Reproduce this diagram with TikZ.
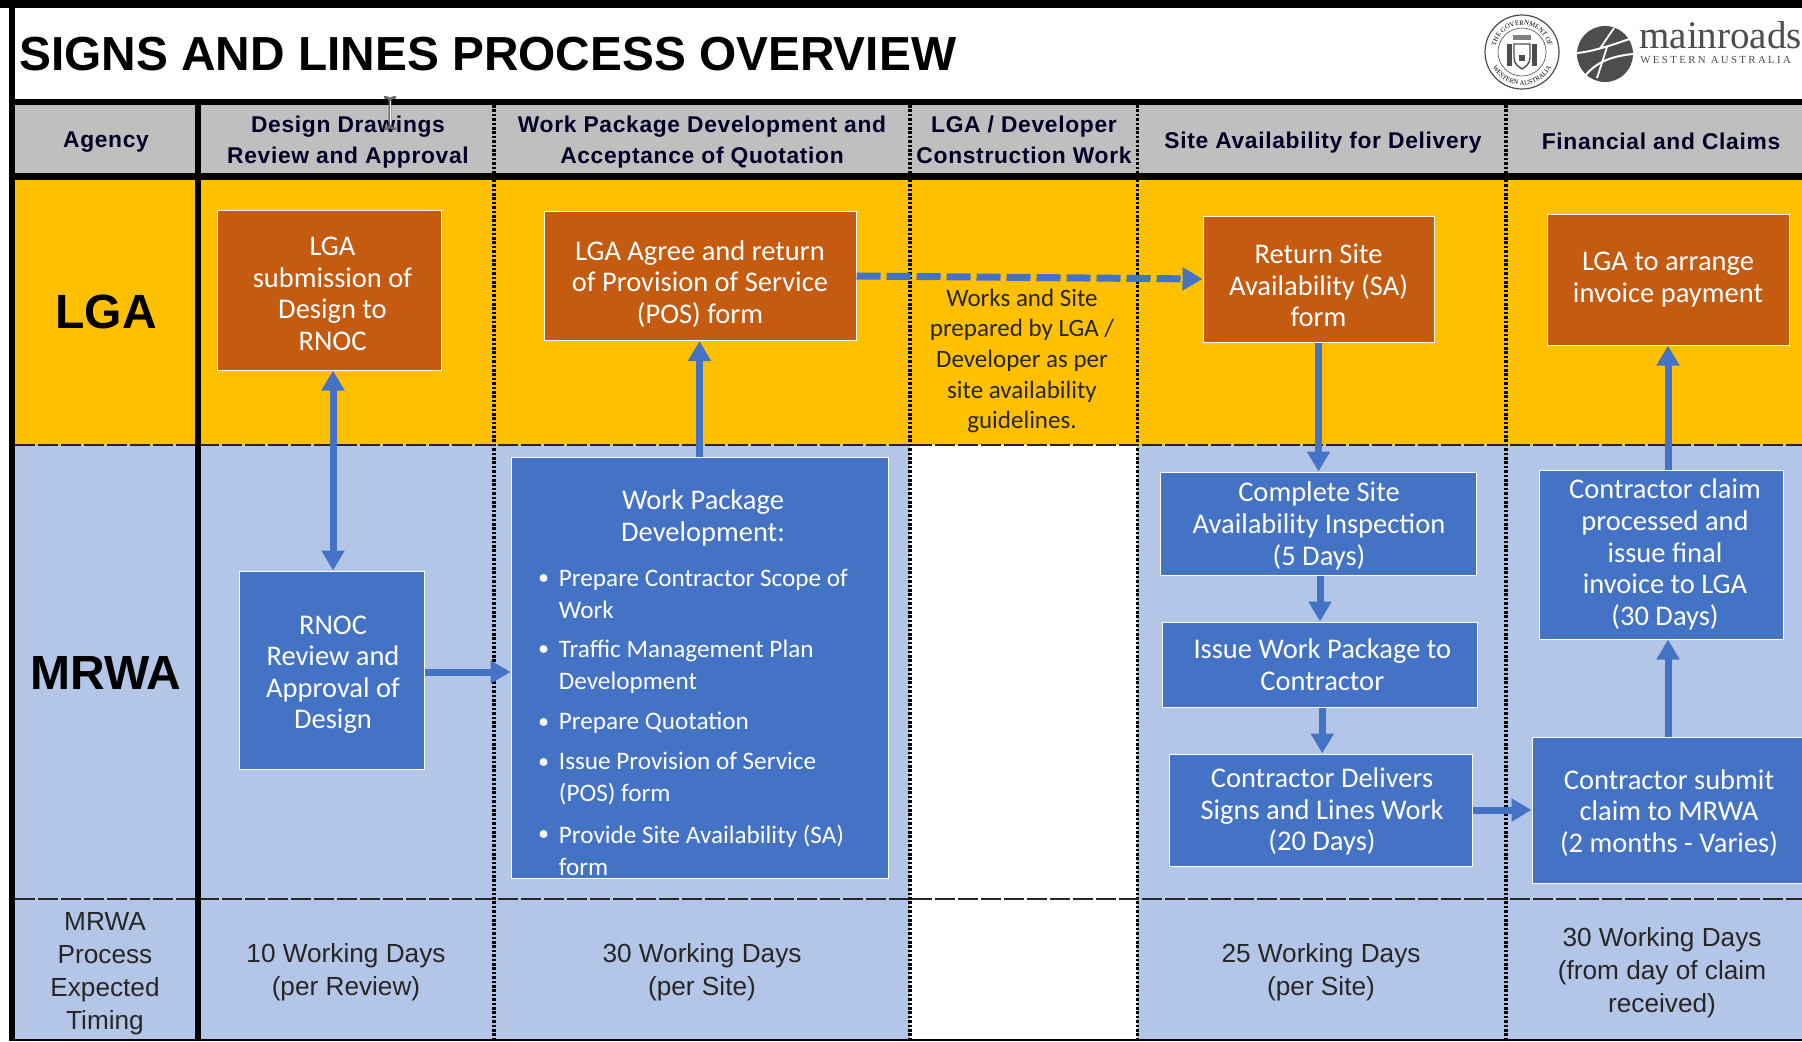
\documentclass[tikz,border=0pt]{standalone}
\usepackage{fontspec}
\setmainfont{Carlito}
\newfontfamily\arialfont{Liberation Sans}
\newfontfamily\headfont[LetterSpace=3]{Liberation Sans}
\newfontfamily\logofont{Liberation Serif}
\newfontfamily\logosmall[LetterSpace=22]{Liberation Serif}
\usepackage{tikz}
\usetikzlibrary{positioning, arrows.meta, calc, decorations.text}
\definecolor{lgaorange}{HTML}{C55A11}
\definecolor{lgagold}{HTML}{FFC000}
\definecolor{mrwablue}{HTML}{4472C4}
\definecolor{mrwalight}{HTML}{B4C6E7}
\definecolor{headgray}{HTML}{BFBFBF}
\definecolor{logogray}{HTML}{4D4D4D}
\tikzset{
    boxtext/.style={align=center, text=white, inner sep=0pt,
        font=\fontsize{14.25}{15.8}\selectfont},
    lgabox/.style={fill=lgaorange, draw=white, line width=0.5pt},
    mrwabox/.style={fill=mrwablue, draw=white, line width=0.5pt},
    itemtext/.style={anchor=west, align=left, text=white, inner sep=0pt,
        font=\fontsize{12.6}{16}\selectfont},
    itemdot/.style={circle, fill=white, inner sep=0pt, minimum size=4pt},
    headtext/.style={align=center, inner sep=0pt, text=black!85!blue,
        font=\headfont\bfseries\fontsize{11.4}{15.8}\selectfont},
    timetext/.style={align=center, inner sep=0pt, text=black!85,
        font=\arialfont\fontsize{13.1}{16.5}\selectfont},
    rowtext/.style={inner sep=0pt, font=\arialfont\bfseries\fontsize{24}{28}\selectfont},
    flow/.style={draw=mrwablue, line width=3.5pt,
        -{Triangle[width=11pt,length=10pt]}},
    blackbar/.style={black, line width=3.2pt},
    rowline/.style={black!85, line width=0.8pt, dash pattern=on 10pt off 1.5pt},
    coldots/.style={black, line width=1.8pt, dash pattern=on 1.3pt off 0.9pt}
}
\begin{document}
\begin{tikzpicture}[x=0.5pt, y=-0.5pt]
    \useasboundingbox (0,0) rectangle (1802,1041);
    \clip (0,0) rectangle (1802,1041);

    % bands
    \fill[white] (0,0) rectangle (1802,1041);
    \fill[headgray] (15,105) rectangle (1802,173);
    \fill[lgagold] (15,180) rectangle (1802,445);
    \fill[mrwalight] (15,445) rectangle (1802,1041);
    \fill[white] (910,445) rectangle (1137,1041);

    % column lines
    \foreach \x in {494,910,1137.5,1506}
    {
        \draw[coldots] (\x,105) -- (\x,1041);
    }

    % row lines
    \foreach \y in {445,899}
    {
        \draw[rowline] (15,\y) -- (1802,\y);
    }

    % border
    \draw[blackbar, line width=4pt] (0,4) -- (1802,4);
    \draw[blackbar] (12,0) -- (12,1041);
    \draw[blackbar] (198,105) -- (198,1041);
    \draw[blackbar] (12,102) -- (1802,102);
    \draw[blackbar] (12,176.5) -- (1802,176.5);
    \draw[blackbar, line width=1pt] (12,1040) -- (1802,1040);

    % title
    \node[anchor=west, inner sep=0pt, font=\arialfont\bfseries\fontsize{23.9}{28}\selectfont]
        (title) at (19,54) {SIGNS AND LINES PROCESS OVERVIEW};

    % seal
    \begin{scope}[shift={(1522,52)}, x=0.5pt, y=0.5pt, logogray]
        \draw[line width=0.6pt] (0,0) circle (37);
        \draw[line width=0.3pt] (0,0) circle (24);
        \path[decorate, decoration={text along path, text align=center,
            text={|\logofont\fontsize{3.4}{4}\selectfont|THE GOVERNMENT OF}}]
            (170:27) arc (170:10:27);
        \path[decorate, decoration={text along path, text align=center,
            text={|\logofont\fontsize{3.4}{4}\selectfont|WESTERN AUSTRALIA}}]
            (205:33) arc (205:335:33);
        \fill[logogray!70] (-9,12) rectangle (9,17);
        \draw[line width=0.7pt, fill=white] (-8,8) -- (8,8) -- (8,-6)
            .. controls (8,-12) and (3,-15) .. (0,-17)
            .. controls (-3,-15) and (-8,-12) .. (-8,-6) -- cycle;
        \fill (-15,8) rectangle (-10,-14);
        \fill (15,8) rectangle (10,-14);
        \fill (-3,-3) rectangle (3,-9);
    \end{scope}

    % main roads logo
    \fill[logogray] (1605,54) circle (28);
    \draw[white, line width=1pt] (1577,53) .. controls (1590,52) and (1610,46) .. (1632,38);
    \draw[white, line width=1pt] (1585,76) .. controls (1596,62) and (1612,56) .. (1633,54);
    \draw[white, line width=0.9pt] (1614,28) -- (1601,47) -- (1607,47) -- (1597,78);
    \node[anchor=base west, inner sep=0pt, text=logogray, font=\logofont\fontsize{19.5}{22}\selectfont]
        (mainroads) at (1639,48) {mainroads};
    \node[anchor=base west, inner sep=0pt, text=logogray, font=\logosmall\fontsize{5.4}{6}\selectfont]
        (westaus) at (1640,63) {WESTERN AUSTRALIA};

    % column heads
    \foreach \name/\x/\y/\txt in {
        agency/106/142.5/{Agency},
        design/348/142/{Design Drawings\\Review and Approval},
        package/702/142/{Work Package Development and\\Acceptance of Quotation},
        construct/1024/140/{LGA / Developer\\Construction Work},
        siteavail/1323/143/{Site Availability for Delivery},
        financial/1661/141.5/{Financial and Claims}}
    {
        \node[headtext] (\name) at (\x,\y) {\txt};
    }

    % mouse cursor
    \draw[black!60, line width=1.3pt] (384,97) -- (388,98) -- (390,100) -- (392,98) -- (396,97)
        (390,100) -- (390,126)
        (384,129) -- (388,128) -- (390,126) -- (392,128) -- (396,129);
    \draw[white, line width=0.4pt] (390,101) -- (390,125);

    % agencies
    \node[rowtext] (lga) at (106,312) {LGA};
    \node[rowtext] (mrwa) at (106,673) {MRWA};

    % boxes, with their text set apart
    \foreach \name/\sty/\x/\y/\w/\h/\tx/\ty/\txt in {
        lgasub/lgabox/329/290/112/80/332.5/294/{LGA\\submission of\\Design to\\RNOC},
        rnoc/mrwabox/331.5/670/92.5/99/333/674.6/{RNOC\\Review and\\Approval of\\Design},
        agree/lgabox/700/276/156/64.5/700/284/{LGA Agree and return\\of Provision of Service\\(POS) form},
        return/lgabox/1318.5/279/115.5/63/1318.5/285.3/{Return Site\\Availability (SA)\\form},
        complete/mrwabox/1318/523.5/158/51.5/1319/525.8/{Complete Site\\Availability Inspection\\(5 Days)},
        issue/mrwabox/1320/664.5/157.5/42.5/1322.3/664.5/{Issue Work Package to\\Contractor},
        delivers/mrwabox/1321/810/151.5/56/1322/811.7/{Contractor Delivers\\Signs and Lines Work\\(20 Days)},
        submit/mrwabox/1669/810/137/73/1669/813/{Contractor submit\\claim to MRWA\\(2 months - Varies)},
        claim/mrwabox/1661/554.5/122/84.5/1665/554.5/{Contractor claim\\processed and\\issue final\\invoice to LGA\\(30 Days)},
        arrange/lgabox/1668/279.5/121/65.5/1668/279.5/{LGA to arrange\\invoice payment}}
    {
        \node[\sty, minimum width=\w pt, minimum height=\h pt] (\name) at (\x,\y) {};
        \node[boxtext] (\name-text) at (\tx,\ty) {\txt};
    }

    % work package content
    \node[mrwabox, minimum width=188.5pt, minimum height=210.5pt] (wp) at (699.5,667.5) {};
    \node[boxtext] (wphead) at (703,518) {Work Package\\Development:};
    \foreach \i/\ydot/\ytxt/\txt in {
        1/578/593.5/{Prepare Contractor Scope of\\Work},
        2/649/667/{Traffic Management Plan\\Development},
        3/722/723/{Prepare Quotation},
        4/762/779/{Issue Provision of Service\\(POS) form},
        5/834/850/{Provide Site Availability (SA)\\form}}
    {
        \node[itemdot] (dot\i) at (543.5,\ydot) {};
        \node[itemtext] (item\i) at (558.5,\ytxt) {\txt};
    }

    % note
    \node[align=center, inner sep=0pt, text=black!85, font=\fontsize{12.5}{15.3}\selectfont]
        (works) at (1022,361) {Works and Site\\prepared by LGA /\\Developer as per\\site availability\\guidelines.};

    % timing
    \foreach \name/\x/\y/\txt in {
        timeagency/105/974/{MRWA\\Process\\Expected\\Timing},
        timedesign/346/972/{10 Working Days\\(per Review)},
        timepackage/702/972/{30 Working Days\\(per Site)},
        timesite/1321/972/{25 Working Days\\(per Site)},
        timefin/1662/973/{30 Working Days\\(from day of claim\\received)}}
    {
        \node[timetext] (\name) at (\x,\y) {\txt};
    }

    % arrows
    \draw[flow, {Triangle[width=11pt,length=10pt]}-{Triangle[width=11pt,length=10pt]}]
        (rnoc-text |- lgasub.south) -- (rnoc-text |- rnoc.north);
    \draw[flow] ([yshift=-1pt]rnoc.east) -- ([yshift=-1pt]rnoc.east -| wp.west);
    \draw[flow] (wp.north) -- (wp.north |- agree.south);
    \draw[flow, dash pattern=on 12pt off 3pt] (agree.east) -- (return.west);
    \draw[flow] (return.south) -- (return.south |- complete.north);
    \draw[flow] (complete.south -| issue.north) -- (issue.north);
    \draw[flow] (issue-text |- issue.south) -- (issue-text |- delivers.north);
    \draw[flow] (delivers.east) -- (submit.west);
    \draw[flow] (submit.north -| arrange.south) -- (claim.south -| arrange.south);
    \draw[flow] (claim.north -| arrange.south) -- (arrange.south);
\end{tikzpicture}
\end{document}
